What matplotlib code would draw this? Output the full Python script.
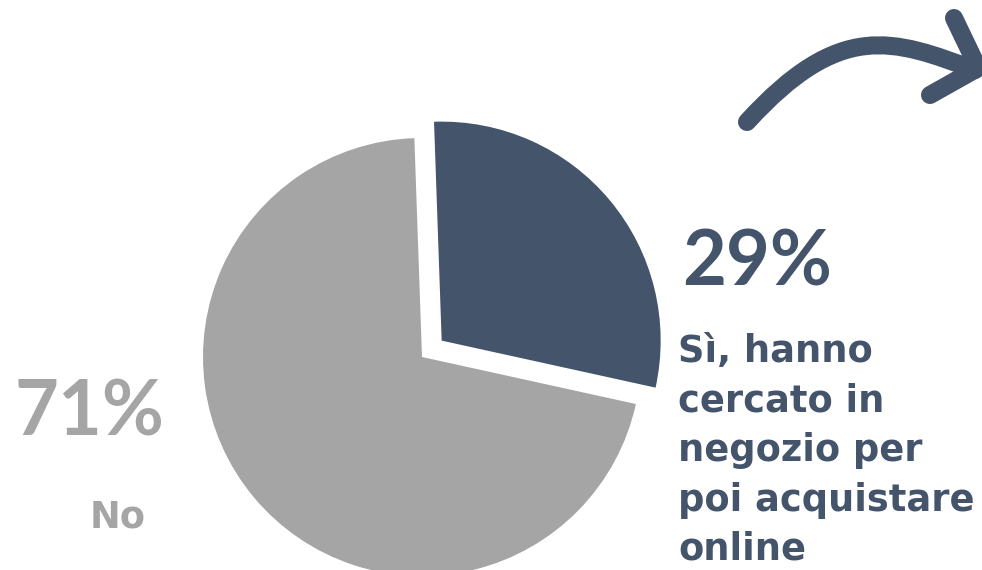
import matplotlib
matplotlib.use("Agg")
import matplotlib.pyplot as plt
from matplotlib.path import Path
from matplotlib.patches import PathPatch

# Survey shares
labels = ["Sì, hanno\ncercato in\nnegozio per\npoi acquistare\nonline", "No"]
values = [29, 71]
pct_labels = ["29%", "71%"]
colors = ["#44546A", "#A5A5A5"]

W, H = 982, 570
fig = plt.figure(figsize=(W / 100, H / 100), dpi=100)
ax = fig.add_axes([0, 0, 1, 1])

radius = 219
center = (422, H - 357)
# explode is given in data units here (axes are in pixels)
ax.pie(values, colors=colors, startangle=92, counterclock=False,
       explode=[25.6, 0], center=center, radius=radius,
       wedgeprops=dict(linewidth=0), frame=True)
ax.set_xlim(0, W)
ax.set_ylim(0, H)
ax.set_aspect("equal")
ax.axis("off")

pct_font = "Lato"
body_font = "DejaVu Sans"
ax.text(682, H - 285, pct_labels[0], color=colors[0], fontsize=54.5,
        fontweight="bold", family=pct_font, ha="left", va="baseline")
ax.text(678, H - 560, labels[0], color=colors[0], fontsize=26.5,
        fontweight="bold", family=body_font, ha="left", va="baseline",
        linespacing=1.43)
ax.text(14, H - 435, pct_labels[1], color=colors[1], fontsize=54.5,
        fontweight="bold", family=pct_font, ha="left", va="baseline")
ax.text(118, H - 528, labels[1], color=colors[1], fontsize=26.5,
        fontweight="bold", family=body_font, ha="center", va="baseline")

# Decorative curved arrow
arc = Path([(747, H - 122), (840, H - 20), (893, H - 39), (975, H - 70)],
           [Path.MOVETO, Path.CURVE4, Path.CURVE4, Path.CURVE4])
ax.add_patch(PathPatch(arc, fill=False, edgecolor=colors[0], linewidth=13,
                       capstyle="round", joinstyle="round"))
head = Path([(954, H - 18), (978, H - 68), (930, H - 95)],
            [Path.MOVETO, Path.LINETO, Path.LINETO])
ax.add_patch(PathPatch(head, fill=False, edgecolor=colors[0], linewidth=13,
                       capstyle="round", joinstyle="round"))

fig.savefig("out.png", dpi=100)
